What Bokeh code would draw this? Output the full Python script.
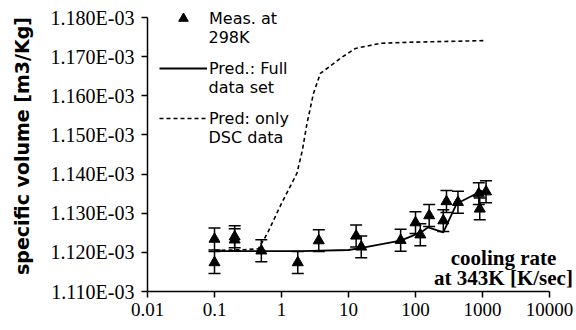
from bokeh.plotting import figure
from bokeh.models import (ColumnDataSource, Whisker, TeeHead, Legend, LegendItem,
                          Label, FixedTicker, Range1d)
from bokeh.embed import file_html
from bokeh.resources import INLINE

# ---- data ----
meas_x = [0.1, 0.1, 0.2, 0.2, 0.5, 1.75, 3.6, 13, 15.5, 60, 100, 118, 160, 260, 290, 430, 880, 910, 1130]
meas_y = [1.1234e-3, 1.1174e-3, 1.1240e-3, 1.1232e-3, 1.1204e-3, 1.1174e-3, 1.1230e-3,
          1.1242e-3, 1.1214e-3, 1.1231e-3, 1.1276e-3, 1.1245e-3, 1.1294e-3, 1.1281e-3,
          1.1330e-3, 1.1328e-3, 1.1350e-3, 1.1311e-3, 1.1355e-3]
meas_err = [0.0028e-3] * 19

full_x = [0.1, 0.5, 2, 10, 15, 60, 120, 155, 260, 410, 1000]
full_y = [1.1203e-3, 1.1203e-3, 1.1203e-3, 1.1206e-3, 1.1211e-3, 1.1230e-3, 1.1251e-3,
          1.1264e-3, 1.1251e-3, 1.1324e-3, 1.1358e-3]

dsc_x = [0.1, 0.3, 0.45, 0.61, 1.0, 1.7, 2.05, 2.4, 3.0, 3.8, 7.6, 12.7, 30, 93, 1100]
dsc_y = [1.1205e-3, 1.1207e-3, 1.1209e-3, 1.1247e-3, 1.1325e-3, 1.1402e-3, 1.1461e-3,
         1.1529e-3, 1.1606e-3, 1.1657e-3, 1.1696e-3, 1.1721e-3, 1.1734e-3, 1.1737e-3, 1.1741e-3]

x_ticks = [0.01, 0.1, 1.0, 10.0, 100.0, 1000.0, 10000.0]
x_tick_labels = ["0.01", "0.1", "1", "10", "100", "1000", "10000"]
y_ticks = [1.110e-3, 1.120e-3, 1.130e-3, 1.140e-3, 1.150e-3, 1.160e-3, 1.170e-3, 1.180e-3]
y_tick_labels = ["1.110E-03", "1.120E-03", "1.130E-03", "1.140E-03",
                 "1.150E-03", "1.160E-03", "1.170E-03", "1.180E-03"]

legend_first = ["Meas. at", "Pred.: Full", "Pred: only"]
legend_second = ["298K", "data set", "DSC data"]
xlabel_lines = ["cooling rate", "at 343K [K/sec]"]
ylabel = "specific volume [m3/Kg]"

# axis extents (frame is widened so that annotations are not clipped;
# the visible axis lines are limited with `bounds`)
x_lo, x_hi = 0.01, 10000.0
y_lo, y_hi = 1.110e-3, 1.180e-3
frame_px_w, frame_px_h = 402.0, 274.0     # pixels spanned by the axis lines
extra_right, extra_top = 27.0, 17.0       # extra frame room for annotations
x_end = x_hi * (x_hi / x_lo) ** (extra_right / frame_px_w)
y_end = y_hi + (y_hi - y_lo) * extra_top / frame_px_h

# ---- figure ----
p = figure(width=576, height=330, x_axis_type="log",
           x_range=Range1d(x_lo, x_end), y_range=Range1d(y_lo, y_end),
           output_backend="svg", toolbar_location=None,
           min_border_left=147, min_border_right=0, min_border_top=0, min_border_bottom=39)
p.outline_line_color = None
p.xgrid.visible = False
p.ygrid.visible = False
p.background_fill_color = "white"
p.border_fill_color = "white"

meas_src = ColumnDataSource(dict(
    x=meas_x, y=meas_y,
    upper=[y + e for y, e in zip(meas_y, meas_err)],
    lower=[y - e for y, e in zip(meas_y, meas_err)]))

r_full = p.line(full_x, full_y, line_color="black", line_width=1.8)
r_dsc = p.line(dsc_x, dsc_y, line_color="black", line_width=1.6, line_dash="4 3")

wh = Whisker(base="x", upper="upper", lower="lower", source=meas_src, dimension="height",
             line_color="black", line_width=1.5,
             upper_head=TeeHead(size=12, line_color="black", line_width=1.5),
             lower_head=TeeHead(size=12, line_color="black", line_width=1.5))
p.add_layout(wh)
r_meas = p.scatter("x", "y", source=meas_src, marker="triangle", size=11,
                   fill_color="black", line_color="black")

# axes
for ax in (p.xaxis[0], p.yaxis[0]):
    ax.axis_line_width = 1.5
    ax.axis_line_color = "black"
    ax.major_tick_line_width = 1.5
    ax.major_tick_line_color = "black"
    ax.major_tick_in = 0
    ax.major_tick_out = 6
    ax.minor_tick_line_color = None
    ax.major_label_text_font = "Liberation Serif"
    ax.major_label_text_color = "black"

p.xaxis[0].bounds = (x_lo, x_hi)
p.xaxis[0].ticker = FixedTicker(ticks=x_ticks)
p.xaxis[0].major_label_overrides = dict(zip(x_ticks, x_tick_labels))
p.xaxis[0].major_label_standoff = 5
p.xaxis[0].major_label_text_font_size = "19px"

p.yaxis[0].bounds = (y_lo, y_hi)
p.yaxis[0].ticker = FixedTicker(ticks=y_ticks)
p.yaxis[0].major_label_overrides = dict(zip(y_ticks, y_tick_labels))
p.yaxis[0].major_label_standoff = 7
p.yaxis[0].major_label_text_font_size = "20px"
p.yaxis[0].axis_label = ylabel
p.yaxis[0].axis_label_text_font = "DejaVu Sans"
p.yaxis[0].axis_label_text_font_style = "bold"
p.yaxis[0].axis_label_text_font_size = "19px"
p.yaxis[0].axis_label_text_color = "black"
p.yaxis[0].axis_label_standoff = 15

# legend (first lines), second lines as labels
legend = Legend(items=[LegendItem(label=legend_first[0], renderers=[r_meas]),
                       LegendItem(label=legend_first[1], renderers=[r_full]),
                       LegendItem(label=legend_first[2], renderers=[r_dsc])],
                location=(12, 161), padding=0, margin=0, spacing=26,
                glyph_width=48, glyph_height=24, label_height=24, label_standoff=2,
                label_text_font="DejaVu Sans", label_text_font_size="16px",
                label_text_color="black",
                border_line_color=None, background_fill_alpha=0)
p.add_layout(legend)

for i, txt in enumerate(legend_second):
    p.add_layout(Label(x=61, y=254 - 50 * i, x_units="screen", y_units="screen",
                       text=txt, text_font="DejaVu Sans", text_font_size="16px",
                       text_baseline="middle", text_align="left", text_color="black"))

for i, txt in enumerate(xlabel_lines):
    p.add_layout(Label(x=356, y=34 - 20 * i, x_units="screen", y_units="screen",
                       text=txt, text_font="Liberation Serif", text_font_size="21px",
                       text_font_style="bold", text_baseline="middle", text_align="center",
                       text_color="black"))

open("out.html", "w").write(file_html(p, INLINE))
